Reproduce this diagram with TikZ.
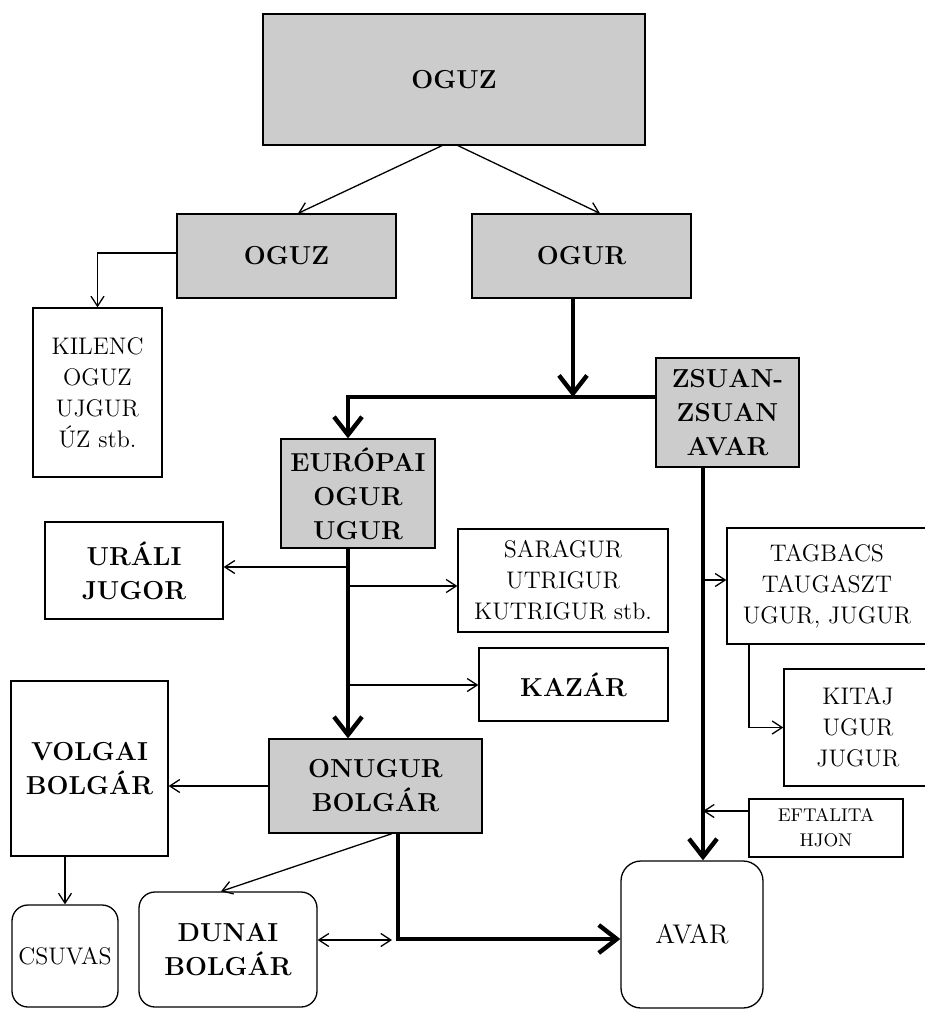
\documentclass[tikz,border=0pt]{standalone}
\usepackage{fontspec}
\usetikzlibrary{arrows.meta}

\begin{document}
\begin{tikzpicture}[x=0.5pt, y=-0.5pt,
    box/.style={draw, line width=0.65pt, inner sep=0pt, align=center,
      font=\fontsize{12}{15.5}\selectfont},
    shaded/.style={box, fill=gray!40, font=\fontsize{13}{17}\selectfont\bfseries},
    boldbox/.style={box, font=\fontsize{13}{17}\selectfont\bfseries},
    roundbox/.style={rounded corners=8pt},
    link/.style={line width=0.65pt, ->, >={Straight Barb[length=5pt,width=6.5pt]}},
    heavy/.style={line width=2.2pt, ->, >={Straight Barb[length=9pt,width=14pt]}}]
    \useasboundingbox (0,0) rectangle (925,1009);

    \node (top) at (454,79.5) [shaded, minimum width=191pt, minimum height=65.5pt] {OGUZ};

    \node (oguz) at (286.5,256) [shaded, minimum width=109.5pt, minimum height=42pt] {OGUZ};
    \node (ogur) at (581.5,256) [shaded, minimum width=109.5pt, minimum height=42pt] {OGUR};

    \node (kilenc) at (97.5,392.5) [box, minimum width=64.5pt, minimum height=84.5pt] {KILENC\\OGUZ\\UJGUR\\ÚZ stb.};

    \node (europai) at (358,493.5) [shaded, minimum width=77pt, minimum height=54.5pt] {EURÓPAI\\OGUR\\UGUR};
    \node (zsuan) at (727.5,412.5) [shaded, minimum width=71.5pt, minimum height=54.5pt] {ZSUAN-\\ZSUAN\\AVAR};

    \node (urali) at (134,570.5) [boldbox, minimum width=89pt, minimum height=48.5pt] {URÁLI\\JUGOR};
    \node (saragur) at (563,580.5) [box, minimum width=105pt, minimum height=51.5pt] {SARAGUR\\UTRIGUR\\KUTRIGUR stb.};
    \node (kazar) at (573.5,684.5) [boldbox, minimum width=94.5pt, minimum height=36.5pt] {KAZÁR};

    \node (tagbacs) at (827,586) [box, minimum width=100pt, minimum height=58pt] {TAGBACS\\TAUGASZT\\UGUR, JUGUR};
    \node (kitaj) at (858,727.5) [box, minimum width=74pt, minimum height=58.5pt] {KITAJ\\UGUR\\JUGUR};
    \node (eftalita) at (826,828) [box, minimum width=77pt, minimum height=29pt,
      font=\fontsize{9.2}{12.5}\selectfont] {EFTALITA\\HJON};

    \node (onugur) at (375.5,786) [shaded, minimum width=106.5pt, minimum height=47pt] {ONUGUR\\BOLGÁR};
    \node (volgai) at (89.5,768.5) [boldbox, minimum width=78.5pt, minimum height=87.5pt] {VOLGAI\\BOLGÁR};

    \node (csuvas) at (65,956) [box, roundbox, minimum width=53pt, minimum height=51pt,
      font=\fontsize{12}{14}\selectfont] {CSUVAS};
    \node (dunai) at (228,949.5) [boldbox, roundbox, minimum width=89pt, minimum height=57.5pt] {DUNAI\\BOLGÁR};
    \node (avar) at (692,934.5) [box, rounded corners=10pt, minimum width=71pt, minimum height=73.5pt,
      font=\fontsize{13.5}{16}\selectfont] {AVAR};

    % junction points on the thick lines
    \coordinate (js) at (348,397);
    \coordinate (jo) at (573,397);
    \coordinate (jz) at (703,467);
    \coordinate (u1) at (348,567);
    \coordinate (u2) at (348,586);
    \coordinate (u3) at (348,685);
    \coordinate (t1) at (703,580);
    \coordinate (e1) at (749,811);
    \coordinate (d1) at (398,939);
    \coordinate (d2) at (392,940);

    \draw[link] ([xshift=-6pt]top.south) -- ([xshift=5.75pt]oguz.north);
    \draw[link] ([xshift=2pt]top.south) -- ([xshift=9.25pt]ogur.north);
    \draw[link] ([yshift=1.5pt]oguz.west) -| (kilenc.north);

    \draw[heavy] (jo |- ogur.south) -- (jo);
    \draw[heavy] (js -| zsuan.west) -- (js) -- (js |- europai.north);
    \draw[heavy] (js |- europai.south) -- (js |- onugur.north);

    \draw[link] (u1) -- (u1 -| urali.east);
    \draw[link] (u2) -- (u2 -| saragur.west);
    \draw[link] (u3) -- (u3 -| kazar.west);

    \draw[heavy] (jz |- zsuan.south) -- (jz |- avar.north);
    \draw[link] (t1) -- (t1 -| tagbacs.west);
    \draw[link] (e1 |- tagbacs.south) |- (kitaj.west);
    \draw[link] (e1) -- (e1 -| jz);

    \draw[link] (onugur.west) -- (onugur.west -| volgai.east);
    \draw[link] (csuvas.north |- volgai.south) -- (csuvas.north);
    \draw[link] ([xshift=8.25pt]onugur.south) -- ([xshift=-3.5pt]dunai.north);
    \draw[heavy] (d1 |- onugur.south) -- (d1) -- (d1 -| avar.west);
    \draw[link, <->] (d2 -| dunai.east) -- (d2);
  \end{tikzpicture}
\end{document}
